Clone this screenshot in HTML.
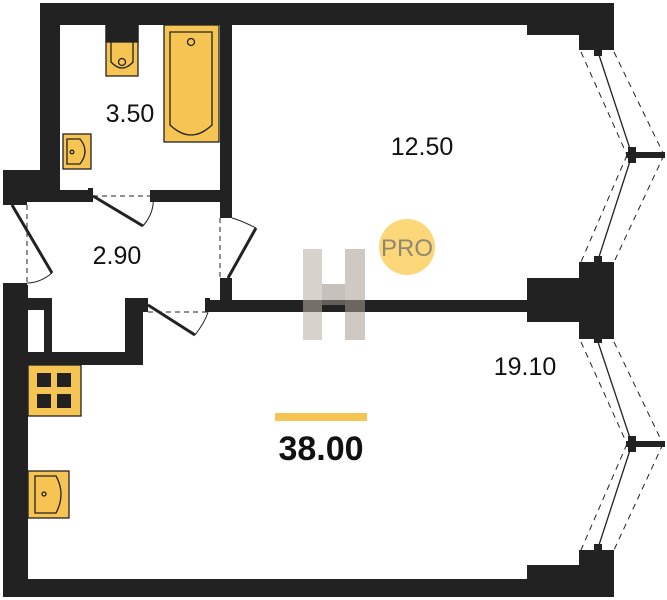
<!DOCTYPE html>
<html><head><meta charset="utf-8"><style>
html,body{margin:0;padding:0;background:#fff;}
svg{display:block;}
text{font-family:"Liberation Sans",sans-serif;}
</style></head><body>
<svg width="667" height="600" viewBox="0 0 667 600" xmlns="http://www.w3.org/2000/svg">
<g fill="#222">
<!-- top wall -->
<rect x="40" y="3" width="574" height="22"/>
<rect x="527" y="3" width="87" height="32"/>
<rect x="579" y="3" width="35" height="47"/>
<!-- bathroom left wall -->
<rect x="40" y="3" width="20" height="199"/>
<rect x="3" y="170" width="57" height="32"/>
<!-- bathroom/hall wall with door gap -->
<rect x="3" y="190" width="87" height="12"/>
<rect x="152" y="190" width="80" height="12"/>
<!-- bath / room wall -->
<rect x="220" y="25" width="12" height="190"/>
<rect x="220" y="280" width="12" height="32"/>
<!-- middle wall -->
<rect x="207" y="300" width="320" height="12"/>
<rect x="527" y="278" width="52" height="44"/>
<rect x="579" y="262" width="35" height="77"/>
<!-- left wall lower -->
<rect x="3" y="285" width="25" height="312"/>
<!-- closet -->
<rect x="27" y="298" width="25" height="12"/>
<rect x="44" y="310" width="8" height="55"/>
<rect x="28" y="352" width="110" height="13"/>
<rect x="125" y="298" width="18" height="67"/>
<!-- bottom wall -->
<rect x="3" y="579" width="611" height="18"/>
<rect x="527" y="565" width="87" height="32"/>
<rect x="579" y="550" width="35" height="47"/>
<!-- door jambs -->
<rect x="88" y="188" width="5" height="14"/><rect x="150" y="190" width="5" height="12"/>
<rect x="3" y="200" width="24" height="5"/><rect x="3" y="283" width="24" height="5"/>
<rect x="220" y="213" width="12" height="5"/><rect x="220" y="278" width="12" height="5"/>
<rect x="143" y="298" width="5" height="14"/><rect x="205" y="298" width="5" height="14"/>
</g>
<!-- doors -->
<g stroke="#222" fill="none">
<path d="M93 196 L155 196" stroke-dasharray="5 4" stroke-width="1"/>
<line x1="93" y1="196" x2="143" y2="226" stroke-width="3"/>
<path d="M143 226 Q155 212 153 196" stroke-width="1"/>
<path d="M27 205 L27 283" stroke-dasharray="5 4" stroke-width="1"/>
<line x1="12" y1="205" x2="52" y2="273" stroke-width="3"/>
<path d="M52 273 Q40 283 27 283" stroke-width="1"/>
<path d="M220 218 L220 278" stroke-dasharray="5 4" stroke-width="1"/>
<line x1="228" y1="278" x2="256" y2="228" stroke-width="3"/>
<path d="M256 228 Q240 220 232 218" stroke-width="1"/>
<path d="M148 312 L208 312" stroke-dasharray="5 4" stroke-width="1"/>
<line x1="148" y1="305" x2="195" y2="335" stroke-width="3"/>
<path d="M195 335 Q205 322 208 312" stroke-width="1"/>
</g>
<!-- windows -->
<g stroke="#222" fill="none">
<line x1="598" y1="52" x2="632" y2="155" stroke-width="1.3"/>
<line x1="632" y1="155" x2="598" y2="260" stroke-width="1.3"/>
<line x1="581" y1="52" x2="627" y2="155" stroke-dasharray="6 5"/>
<line x1="614" y1="52" x2="664" y2="155" stroke-dasharray="6 5"/>
<line x1="627" y1="155" x2="581" y2="262" stroke-dasharray="6 5"/>
<line x1="664" y1="155" x2="614" y2="262" stroke-dasharray="6 5"/>
<line x1="598" y1="342" x2="632" y2="444" stroke-width="1.3"/>
<line x1="632" y1="444" x2="598" y2="548" stroke-width="1.3"/>
<line x1="581" y1="342" x2="627" y2="444" stroke-dasharray="6 5"/>
<line x1="614" y1="342" x2="663" y2="444" stroke-dasharray="6 5"/>
<line x1="627" y1="444" x2="581" y2="550" stroke-dasharray="6 5"/>
<line x1="663" y1="444" x2="614" y2="550" stroke-dasharray="6 5"/>
</g>
<g fill="#222">
<rect x="626" y="152" width="39" height="6"/><rect x="628" y="147" width="8" height="16"/>
<rect x="626" y="441" width="39" height="6"/><rect x="628" y="436" width="8" height="16"/>
<rect x="594" y="50" width="8" height="6"/><rect x="594" y="256" width="8" height="6"/>
<rect x="594" y="337" width="8" height="6"/><rect x="594" y="544" width="8" height="6"/>
</g>
<!-- fixtures -->
<g stroke="#222" stroke-width="1.3">
<rect x="106" y="25" width="32" height="51" fill="#f6c453"/>
<rect x="106" y="25" width="32" height="17" fill="#222"/>
<path d="M111 42 L111 62 Q122 74 133 62 L133 42" fill="none"/>
<circle cx="122" cy="62" r="3.5" fill="none"/>
<rect x="164" y="25" width="55" height="117" fill="#f6c453"/>
<path d="M170 32 L212 32 L212 125 Q191 145 170 125 Z" fill="none"/>
<circle cx="191" cy="42" r="3.5" fill="none"/>
<rect x="63" y="134" width="28" height="35" fill="#f6c453"/>
<path d="M67 139 L80 139 Q90 151 80 164 L67 164 Z" fill="none"/>
<circle cx="72" cy="152" r="1.8" fill="none"/>
<rect x="28" y="365" width="53" height="51" fill="#f6c453"/>
<rect x="28" y="471" width="41" height="47" fill="#f6c453"/>
<path d="M35 476 L56 476 Q66 494 56 513 L35 513 Z" fill="none"/>
<circle cx="44" cy="494" r="2" fill="none"/>
</g>
<g fill="#222">
<rect x="37" y="373" width="14" height="14"/><rect x="57" y="373" width="14" height="14"/>
<rect x="37" y="394" width="14" height="14"/><rect x="57" y="394" width="14" height="14"/>
</g>
<!-- H logo -->
<g opacity="0.55">
<rect x="303" y="249" width="19" height="91" fill="#b8aea4"/>
<rect x="345" y="249" width="20" height="91" fill="#a89e94"/>
<rect x="322" y="284" width="23" height="21" fill="#9a9088"/>
</g>
<circle cx="407" cy="247" r="28" fill="#fbd77a"/>
<text x="407" y="256" text-anchor="middle" font-size="24" fill="#8f8770">PRO</text>
<text x="130" y="122" text-anchor="middle" font-size="25" fill="#111">3.50</text>
<text x="117" y="264" text-anchor="middle" font-size="25" fill="#111">2.90</text>
<text x="422" y="155" text-anchor="middle" font-size="25" fill="#111">12.50</text>
<text x="525" y="375" text-anchor="middle" font-size="25" fill="#111">19.10</text>
<rect x="275" y="413" width="92" height="8" fill="#f6c453"/>
<text x="321" y="460" text-anchor="middle" font-size="34" font-weight="bold" fill="#111">38.00</text>
</svg>
</body></html>
